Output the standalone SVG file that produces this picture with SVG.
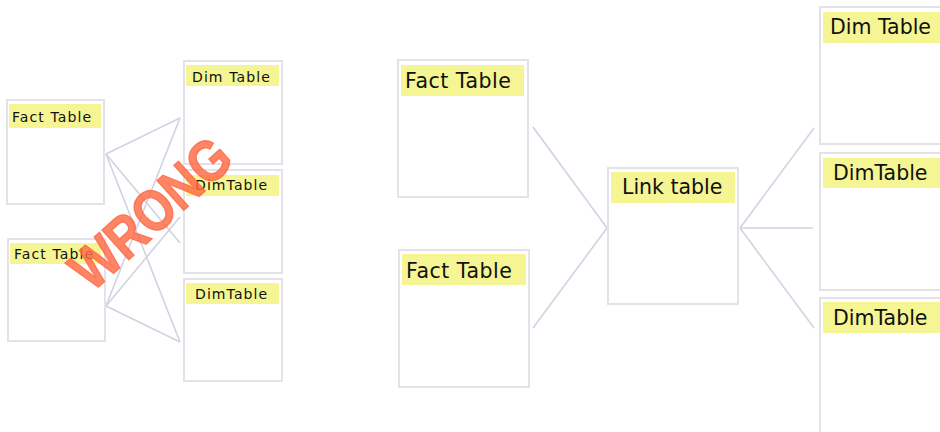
<svg xmlns="http://www.w3.org/2000/svg" width="940" height="432" viewBox="0 0 940 432">
<style>
.box{fill:#fff;stroke:#e2e2e8;stroke-width:2}
.lbl{fill:#f5f593}
.ts{font-family:"DejaVu Sans",sans-serif;font-size:14px;letter-spacing:1.1px;fill:#111}
.tl{font-family:"DejaVu Sans",sans-serif;font-size:20.5px;fill:#111}
.con line{stroke:#d2d2e2;stroke-width:1.6}
.wrong{font-family:"Liberation Sans",Arial,sans-serif;font-weight:bold;font-size:58px;fill:#ff6a45;fill-opacity:0.82;stroke:#ff6a45;stroke-opacity:0.82;stroke-width:1.5}
</style>
<rect width="940" height="432" fill="#fff"/>
<g id="connectors" class="con">
<line x1="106" y1="154" x2="180" y2="118"/>
<line x1="106" y1="154" x2="180" y2="243"/>
<line x1="106" y1="154" x2="180" y2="342"/>
<line x1="106" y1="306" x2="180" y2="118"/>
<line x1="106" y1="306" x2="180" y2="217"/>
<line x1="106" y1="306" x2="180" y2="342"/>
<line x1="533" y1="127" x2="607" y2="228"/>
<line x1="533" y1="328" x2="607" y2="228"/>
<line x1="740" y1="228" x2="814" y2="128"/>
<line x1="740" y1="228" x2="813" y2="228"/>
<line x1="740" y1="228" x2="814" y2="328"/>
</g>
<g id="fact1"><rect class="box" x="7" y="100" width="97" height="104"/><rect class="lbl" x="9" y="104" width="92" height="24"/><text class="ts" x="12" y="122">Fact Table</text></g>
<g id="fact2"><rect class="box" x="8" y="239" width="97" height="102"/><rect class="lbl" x="10" y="243" width="91" height="21"/><text class="ts" x="14" y="259">Fact Table</text></g>
<g id="dim1"><rect class="box" x="184" y="61" width="98" height="103"/><rect class="lbl" x="186" y="65" width="93" height="21"/><text class="ts" x="192" y="82">Dim Table</text></g>
<g id="dim2"><rect class="box" x="184" y="170" width="98" height="103"/><rect class="lbl" x="186" y="175" width="93" height="21"/><text class="ts" x="195" y="190">DimTable</text></g>
<g id="dim3"><rect class="box" x="184" y="279" width="98" height="102"/><rect class="lbl" x="186" y="283" width="93" height="21"/><text class="ts" x="195" y="299">DimTable</text></g>
<g id="factA"><rect class="box" x="398" y="60" width="130" height="137"/><rect class="lbl" x="401" y="65" width="123" height="31"/><text class="tl" x="405" y="88" letter-spacing="0.5">Fact Table</text></g>
<g id="factB"><rect class="box" x="399" y="250" width="130" height="137"/><rect class="lbl" x="402" y="254" width="124" height="31"/><text class="tl" x="406" y="278" letter-spacing="0.5">Fact Table</text></g>
<g id="link"><rect class="box" x="608" y="168" width="130" height="136"/><rect class="lbl" x="611" y="172" width="124" height="31"/><text class="tl" x="622" y="194">Link table</text></g>
<g id="dimR1"><rect class="box" x="820" y="7" width="130" height="137"/><rect class="lbl" x="823" y="12" width="120" height="31"/><text class="tl" x="830" y="34">Dim Table</text></g>
<g id="dimR2"><rect class="box" x="820" y="153" width="130" height="137"/><rect class="lbl" x="823" y="158" width="120" height="30"/><text class="tl" x="833" y="180">DimTable</text></g>
<g id="dimR3"><rect class="box" x="820" y="298" width="130" height="150"/><rect class="lbl" x="823" y="302" width="120" height="31"/><text class="tl" x="833" y="325">DimTable</text></g>
<text class="wrong" x="0" y="0" text-anchor="middle" transform="translate(164,228) rotate(-42) scale(0.85,1)">WRONG</text>
</svg>
